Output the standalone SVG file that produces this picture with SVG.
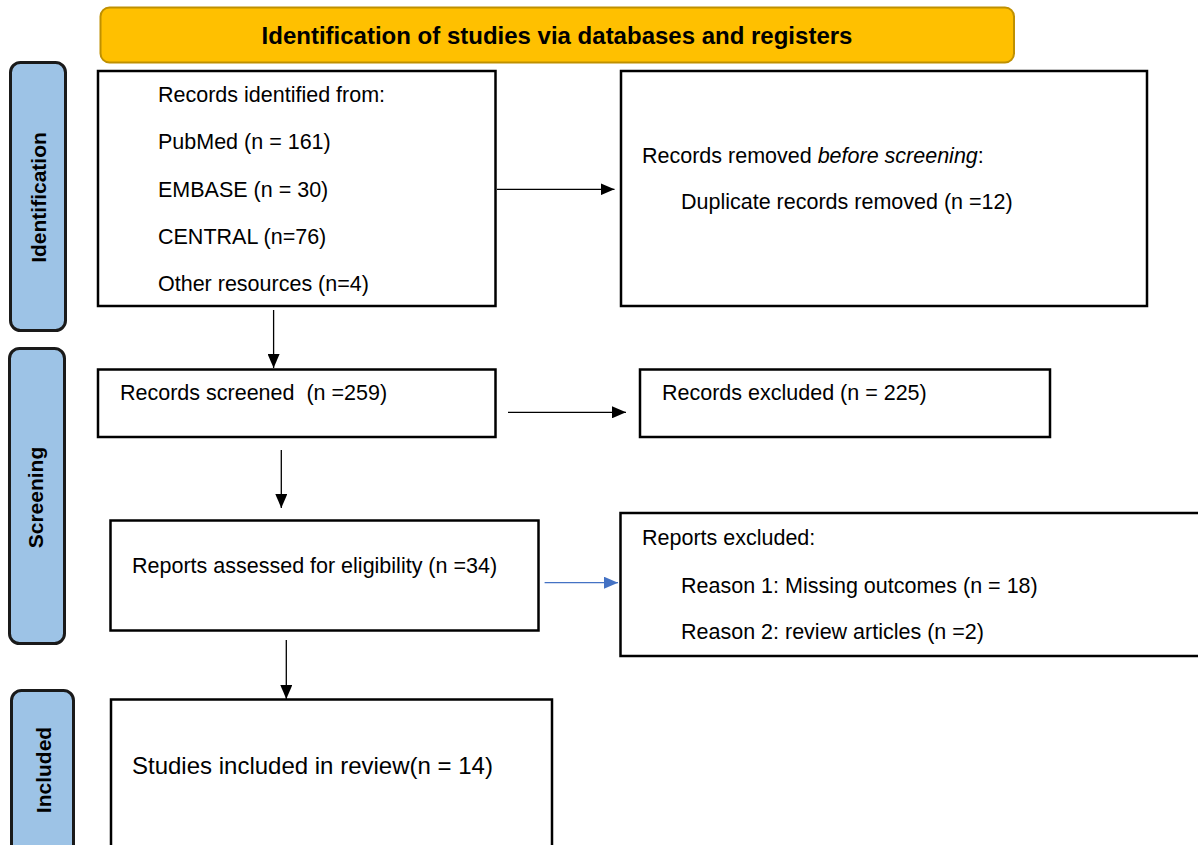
<svg xmlns="http://www.w3.org/2000/svg" width="1198" height="845" viewBox="0 0 1198 845">
<style>
.box{fill:#fff;stroke:#000;stroke-width:2.5}
.side{fill:#9DC3E6;stroke:#1a1a1a;stroke-width:3}
.t{font-family:"Liberation Sans",Arial,sans-serif;font-size:21.5px;fill:#000}
.big{font-size:24px}
.sl{font-family:"Liberation Sans",Arial,sans-serif;font-size:21px;font-weight:bold;fill:#000;text-anchor:middle}
.c{stroke:#000;stroke-width:1.3;fill:none}
.cb{stroke:#4472C4;stroke-width:1.3;fill:none}
</style>
<defs>
<marker id="ah" markerWidth="14" markerHeight="12" refX="14" refY="6" orient="auto" markerUnits="userSpaceOnUse"><path d="M0,0 L14,6 L0,12 Z" fill="#000"/></marker>
<marker id="ahb" markerWidth="14" markerHeight="12" refX="14" refY="6" orient="auto" markerUnits="userSpaceOnUse"><path d="M0,0 L14,6 L0,12 Z" fill="#4472C4"/></marker>
</defs>
<rect width="1198" height="845" fill="#fff"/>
<g id="header">
<rect x="100.5" y="7.5" width="913.5" height="55" rx="9" fill="#FFC000" stroke="#BF9000" stroke-width="2"/>
<text x="557" y="44.3" font-family="Liberation Sans,Arial,sans-serif" font-size="24" font-weight="bold" text-anchor="middle">Identification of studies via databases and registers</text>
</g>
<g id="lbl-identification">
<rect class="side" x="10.5" y="62.5" width="55" height="268" rx="10"/>
<text class="sl" transform="translate(46,197.5) rotate(-90)">Identification</text>
</g>
<g id="lbl-screening">
<rect class="side" x="9.5" y="348.5" width="55" height="295" rx="10"/>
<text class="sl" transform="translate(43,497.5) rotate(-90)">Screening</text>
</g>
<g id="lbl-included">
<rect class="side" x="11.5" y="690.5" width="62" height="170" rx="10"/>
<text class="sl" transform="translate(51,770) rotate(-90)">Included</text>
</g>
<g id="n-identified">
<rect class="box" x="98" y="71" width="397.5" height="235"/>
<text class="t" x="158" y="102">Records identified from:</text>
<text class="t" x="158" y="149.3">PubMed (n = 161)</text>
<text class="t" x="158" y="196.6">EMBASE (n = 30)</text>
<text class="t" x="158" y="243.9">CENTRAL (n=76)</text>
<text class="t" x="158" y="291.2">Other resources (n=4)</text>
</g>
<g id="n-removed">
<rect class="box" x="621" y="71" width="526" height="235"/>
<text class="t" x="642" y="162.7">Records removed <tspan font-style="italic">before screening</tspan>:</text>
<text class="t" x="681" y="209.4">Duplicate records removed (n =12)</text>
</g>
<g id="n-screened">
<rect class="box" x="98" y="369.5" width="397.5" height="67.5"/>
<text class="t" x="120" y="400.4" xml:space="preserve">Records screened  (n =259)</text>
</g>
<g id="n-excluded">
<rect class="box" x="640" y="369.5" width="410" height="67.5"/>
<text class="t" x="662" y="400.4">Records excluded (n = 225)</text>
</g>
<g id="n-assessed">
<rect class="box" x="110.5" y="520.5" width="428" height="110"/>
<text class="t" x="132" y="572.7">Reports assessed for eligibility (n =34)</text>
</g>
<g id="n-reports-excluded">
<rect class="box" x="620.5" y="513" width="590" height="143"/>
<text class="t" x="642" y="545.4">Reports excluded:</text>
<text class="t" x="681" y="592.7">Reason 1: Missing outcomes (n = 18)</text>
<text class="t" x="681" y="639.4">Reason 2: review articles (n =2)</text>
</g>
<g id="n-included">
<rect class="box" x="111" y="699.5" width="441" height="170"/>
<text class="t big" x="132" y="773.6">Studies included in review(n = 14)</text>
</g>
<g id="connectors">
<line class="c" x1="497" y1="189.3" x2="614.5" y2="189.3" marker-end="url(#ah)"/>
<line class="c" x1="273.6" y1="310" x2="273.6" y2="368" marker-end="url(#ah)"/>
<line class="c" x1="508" y1="412.3" x2="626" y2="412.3" marker-end="url(#ah)"/>
<line class="c" x1="281.3" y1="450" x2="281.3" y2="508" marker-end="url(#ah)"/>
<line class="cb" x1="544.6" y1="582.7" x2="618" y2="582.7" marker-end="url(#ahb)"/>
<line class="c" x1="286.3" y1="640" x2="286.3" y2="699" marker-end="url(#ah)"/>
</g>
</svg>
